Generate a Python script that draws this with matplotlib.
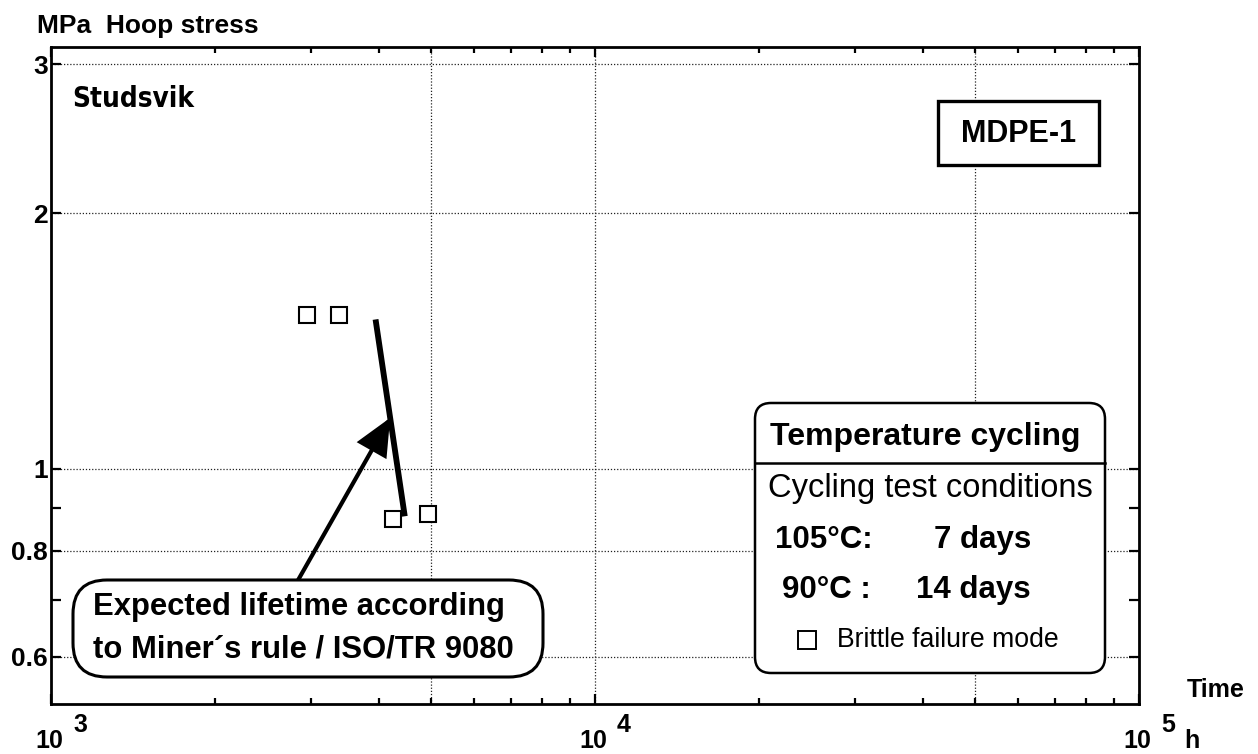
import matplotlib
matplotlib.use("Agg")
import matplotlib.pyplot as plt
import matplotlib.ticker as mticker
import matplotlib.transforms as mtransforms
from matplotlib import font_manager
from matplotlib.patches import FancyBboxPatch, Rectangle
from matplotlib.lines import Line2D
import numpy as np

plt.rcParams['font.family'] = ['Liberation Sans', 'DejaVu Sans']

# Failure points (brittle mode), temperature cycling
time_h = [2950, 3390, 4260, 4930]
stress_mpa = [1.52, 1.52, 0.872, 0.884]

# Expected lifetime according to Miner's rule / ISO/TR 9080
miner_time = [3950, 4470]
miner_stress = [1.50, 0.879]

# Axes ticks and grid
x_decades = [3, 4, 5]
y_ticks = [0.6, 0.8, 1, 2, 3]
y_tick_labels = ['0.6', '0.8', '1', '2', '3']
y_minor = [0.7, 0.9]
grid_x = [5e3, 1e4, 5e4]
grid_y = [0.6, 0.8, 1, 2, 3]

W, H = 1258, 754
fig = plt.figure(figsize=(W / 100, H / 100), dpi=100)


def fx(px):
    return px / W


def fy(py):
    return 1 - py / H


# narrow face for the lab name, if one is installed
fonts = font_manager.fontManager.ttflist
if any(f.name == 'Liberation Sans Narrow' for f in fonts):
    brand_font = dict(family='Liberation Sans Narrow', fontsize=24)
elif any(f.name == 'DejaVu Sans' and f.stretch == 'condensed' for f in fonts):
    brand_font = dict(family='DejaVu Sans', fontstretch='condensed', fontsize=20)
else:
    brand_font = dict(family='Liberation Sans', fontsize=20)

ax = fig.add_axes([fx(51), fy(704), (1139 - 51) / W, (704 - 47) / H])
ax.set_xscale('log')
ax.set_yscale('log')
ax.set_xlim(1e3, 1e5)
ax.set_ylim(0.528, 3.143)

for s in ax.spines.values():
    s.set_linewidth(2.0)

for gx in grid_x:
    ax.axvline(gx, color='#222222', lw=0.9, ls=(0, (1, 1.5)), zorder=0.5)
for gy in grid_y:
    ax.axhline(gy, color='#222222', lw=0.9, ls=(0, (1, 1.5)), zorder=0.5)

ax.xaxis.set_major_locator(mticker.FixedLocator([10.0 ** d for d in x_decades]))
ax.xaxis.set_major_formatter(mticker.NullFormatter())
ax.xaxis.set_minor_locator(mticker.LogLocator(base=10, subs=np.arange(2, 10)))
ax.xaxis.set_minor_formatter(mticker.NullFormatter())

ax.yaxis.set_major_locator(mticker.FixedLocator(y_ticks))
ax.yaxis.set_major_formatter(mticker.FixedFormatter(y_tick_labels))
ax.yaxis.set_minor_locator(mticker.FixedLocator(y_minor))
ax.yaxis.set_minor_formatter(mticker.NullFormatter())

ax.tick_params(which='both', direction='in', top=True, right=True, width=1.6)
ax.tick_params(axis='x', which='major', length=7.5)
ax.tick_params(axis='x', which='minor', length=4)
ax.tick_params(axis='y', which='both', length=7, pad=2, labelsize=19)
for lab in ax.get_yticklabels():
    lab.set_fontweight('bold')

# Miner's rule line and failure points
ax.plot(miner_time, miner_stress, color='black', lw=4.2, solid_capstyle='butt', zorder=3)
ax.plot(time_h, stress_mpa, ls='none', marker='s', ms=12, mfc='white', mec='black',
        mew=1.5, zorder=4)

# Arrow from the callout to the middle of the Miner line
tip = (np.sqrt(miner_time[0] * miner_time[1]), np.sqrt(miner_stress[0] * miner_stress[1]))
tail = (2845, 0.739)
ax.annotate('', xy=tip, xytext=tail,
            arrowprops=dict(arrowstyle='-|>,head_length=1.1,head_width=0.5',
                            lw=3, color='black', mutation_scale=20,
                            shrinkA=0, shrinkB=0, joinstyle='miter'),
            zorder=5)

# X tick labels: 10 with a raised exponent
blend = mtransforms.blended_transform_factory(ax.transData, fig.transFigure)
for d in x_decades:
    ax.annotate('10', xy=(10.0 ** d, fy(748)), xycoords=blend, xytext=(-2, 0),
                textcoords='offset pixels', ha='center', va='baseline',
                fontsize=18, fontweight='bold', annotation_clip=False)
    ax.annotate(str(d), xy=(10.0 ** d, fy(732)), xycoords=blend, xytext=(22, 0),
                textcoords='offset pixels', ha='left', va='baseline',
                fontsize=18, fontweight='bold', annotation_clip=False)

fig.text(fx(1184), fy(748), 'h', fontsize=18, fontweight='bold', va='baseline')
fig.text(fx(1187), fy(697), 'Time', fontsize=18, fontweight='bold', va='baseline')
fig.text(fx(37), fy(33), 'MPa  Hoop stress', fontsize=19, fontweight='bold', va='baseline')

fig.text(fx(72), fy(107), 'Studsvik', fontweight='bold', va='baseline', **brand_font)

# MDPE-1 label box
fig.add_artist(Rectangle((fx(938), fy(165)), (1099 - 938) / W, (165 - 101) / H,
                         transform=fig.transFigure, fc='white', ec='black', lw=2.4, zorder=2))
fig.text(fx(1019), fy(142), 'MDPE-1', fontsize=22, fontweight='bold', ha='center',
         va='baseline', zorder=3)

aspect = W / H

# Callout box
fig.add_artist(FancyBboxPatch((fx(73), fy(677)), (543 - 73) / W, (677 - 580) / H,
                              boxstyle='round,pad=0,rounding_size=%f' % (34 / W),
                              mutation_aspect=aspect, transform=fig.transFigure,
                              fc='white', ec='black', lw=2.2, zorder=2))
callout_lines = ['Expected lifetime according', 'to Miner\u00b4s rule / ISO/TR 9080']
for line, base in zip(callout_lines, [615, 657]):
    fig.text(fx(93), fy(base), line, fontsize=22.3, fontweight='bold', va='baseline', zorder=3)

# Test-condition box
fig.add_artist(FancyBboxPatch((fx(755), fy(673)), (1105 - 755) / W, (673 - 403) / H,
                              boxstyle='round,pad=0,rounding_size=%f' % (16 / W),
                              mutation_aspect=aspect, transform=fig.transFigure,
                              fc='white', ec='black', lw=1.8, zorder=2))
fig.add_artist(Line2D([fx(755), fx(1105)], [fy(463), fy(463)], transform=fig.transFigure,
                      color='black', lw=1.8, zorder=3))
fig.text(fx(770), fy(445), 'Temperature cycling', fontsize=23, fontweight='bold',
         va='baseline', zorder=3)
fig.text(fx(768), fy(497), 'Cycling test conditions', fontsize=23.5, va='baseline', zorder=3)
fig.text(fx(775), fy(548), '105\u00b0C:', fontsize=22.5, fontweight='bold', va='baseline', zorder=3)
fig.text(fx(1031), fy(548), '7 days', fontsize=22.5, fontweight='bold', va='baseline',
         ha='right', zorder=3)
fig.text(fx(782), fy(598), '90\u00b0C :', fontsize=22.5, fontweight='bold', va='baseline', zorder=3)
fig.text(fx(1031), fy(598), '14 days', fontsize=22.5, fontweight='bold', va='baseline',
         ha='right', zorder=3)
fig.add_artist(Line2D([fx(807)], [fy(640)], transform=fig.transFigure, ls='none',
                      marker='s', ms=12.5, mfc='white', mec='black', mew=1.4, zorder=4))
fig.text(fx(837), fy(647), 'Brittle failure mode', fontsize=19.2, va='baseline', zorder=3)

fig.savefig('out.png', dpi=100)
